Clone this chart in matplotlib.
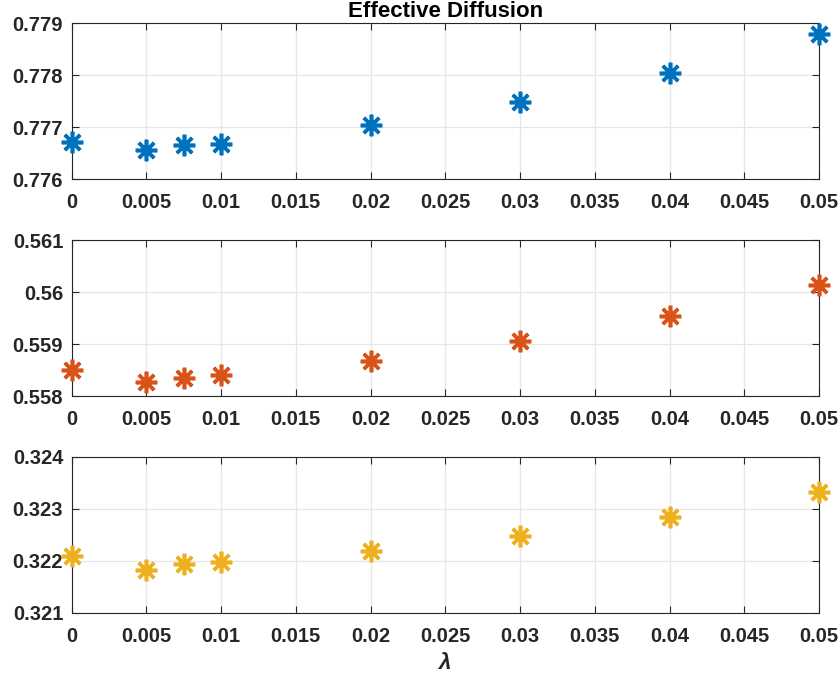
import matplotlib
matplotlib.use("Agg")
import matplotlib.pyplot as plt

lam = [0, 0.005, 0.0075, 0.01, 0.02, 0.03, 0.04, 0.05]
d1 = [0.776712, 0.776564, 0.776654, 0.776673, 0.777032, 0.777480, 0.778038, 0.778788]
d2 = [0.558495, 0.558276, 0.558340, 0.558405, 0.558674, 0.559060, 0.559535, 0.560128]
d3 = [0.322096, 0.321821, 0.321936, 0.321981, 0.322192, 0.322480, 0.322851, 0.323322]

ylims = [(0.776, 0.779), (0.558, 0.561), (0.321, 0.324)]
yticks = [[0.776, 0.777, 0.778, 0.779], [0.558, 0.559, 0.56, 0.561], [0.321, 0.322, 0.323, 0.324]]
ylabels = [["0.776", "0.777", "0.778", "0.779"], ["0.558", "0.559", "0.56", "0.561"],
           ["0.321", "0.322", "0.323", "0.324"]]
xticks = [0, 0.005, 0.01, 0.015, 0.02, 0.025, 0.03, 0.035, 0.04, 0.045, 0.05]
xlabels = ["0", "0.005", "0.01", "0.015", "0.02", "0.025", "0.03", "0.035", "0.04", "0.045", "0.05"]
colors = ["#0072BD", "#D95319", "#EDB120"]

plt.rcParams["font.family"] = ["Liberation Sans", "DejaVu Sans"]
plt.rcParams["font.weight"] = "bold"
txt = "#262626"

W, H = 840, 679
fig = plt.figure(figsize=(W / 100, H / 100), dpi=100)
# pixel boxes: (top, bottom)
boxes = [(23, 179), (240, 396), (457, 613)]
left, right = 71.5, 819

for i, (data, (t, b)) in enumerate(zip([d1, d2, d3], boxes)):
    ax = fig.add_axes([left / W, 1 - b / H, (right - left) / W, (b - t) / H])
    ax.plot(lam, data, linestyle="none", marker=(8, 2, 0), markersize=15.5,
            markeredgewidth=2.6, color=colors[i], clip_on=False, zorder=3)
    ax.set_xlim(0, 0.05)
    ax.set_ylim(*ylims[i])
    ax.set_xticks(xticks)
    ax.set_xticklabels(xlabels)
    ax.set_yticks(yticks[i])
    ax.set_yticklabels(ylabels[i])
    ax.grid(True, color="#E6E6E6", linewidth=0.9)
    ax.set_axisbelow(True)
    ax.tick_params(direction="in", length=5, width=0.8, colors=txt, labelsize=14.5,
                   top=True, right=True)
    ax.tick_params(axis="x", pad=10)
    ax.tick_params(axis="y", pad=6)
    for s in ax.spines.values():
        s.set_color(txt)
        s.set_linewidth(0.8)
    for lb in ax.get_xticklabels() + ax.get_yticklabels():
        lb.set_fontweight("bold")
    if i == 0:
        ax.set_title("Effective Diffusion", fontsize=16, fontweight="bold", color="black", pad=4)
    if i == 2:
        ax.set_xlabel("λ", fontsize=16, fontweight="bold", fontstyle="italic",
                      color=txt, labelpad=5)

fig.savefig("out.png", dpi=100)
